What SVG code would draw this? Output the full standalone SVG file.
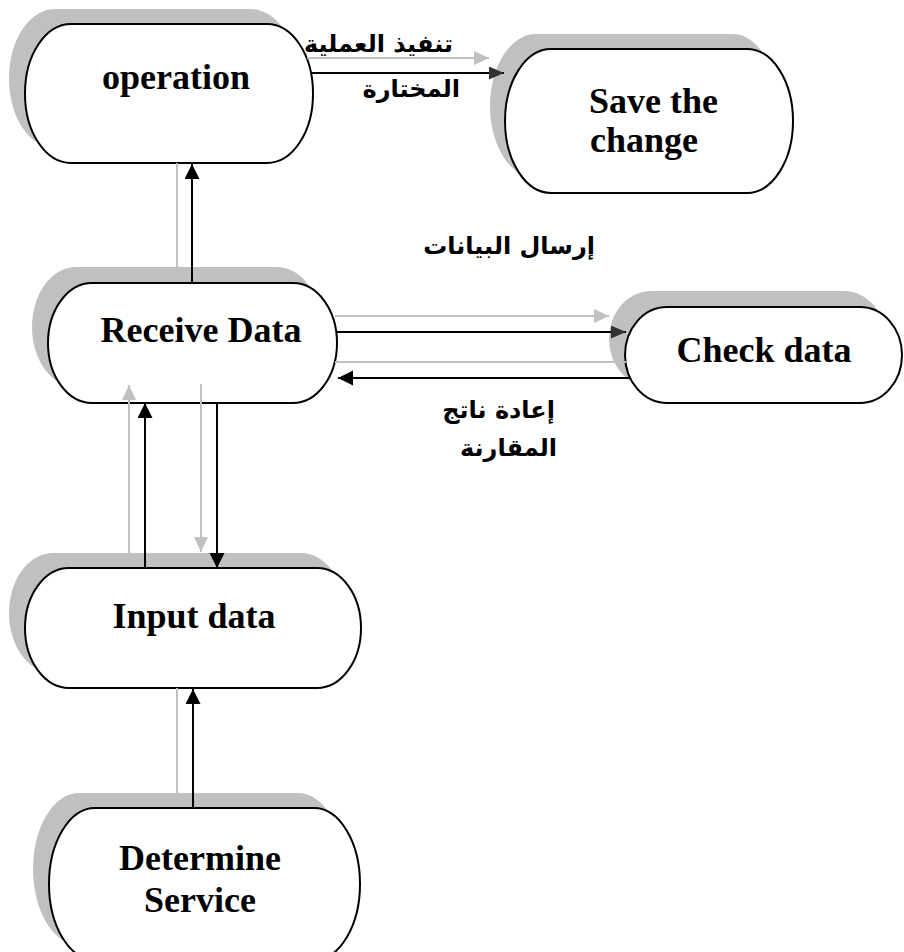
<svg xmlns="http://www.w3.org/2000/svg" width="904" height="952" viewBox="0 0 904 952">
  <style>
    .shadow { fill: #c0c0c0; stroke: none; }
    .box { fill: #ffffff; stroke: #000000; stroke-width: 2; }
    .label { font-family: "Liberation Serif", "Times New Roman", serif; font-weight: bold; font-size: 36px; fill: #000000; }
    .ar { font-family: "DejaVu Sans", "Liberation Sans", sans-serif; font-weight: bold; font-size: 24px; fill: #000000; }
    .line { fill: none; stroke: #000000; stroke-width: 2; }
    .gline { fill: none; stroke: #c0c0c0; stroke-width: 2; }
  </style>
  <defs>
    <marker id="arrowBlack" markerUnits="userSpaceOnUse" markerWidth="16" markerHeight="16" refX="15" refY="7.5" orient="auto">
      <path d="M0,0 L15,7.5 L0,15 Z" fill="#000000"/>
    </marker>
    <marker id="arrowDark" markerUnits="userSpaceOnUse" markerWidth="16" markerHeight="16" refX="15" refY="6.5" orient="auto">
      <path d="M0,0 L15,6.5 L0,13 Z" fill="#333333"/>
    </marker>
    <marker id="arrowGray" markerUnits="userSpaceOnUse" markerWidth="16" markerHeight="16" refX="15" refY="7" orient="auto">
      <path d="M0,0 L15,7 L0,14 Z" fill="#c0c0c0"/>
    </marker>
  </defs>

  <rect width="904" height="952" fill="#ffffff"/>

  <!-- process nodes: gray drop shadow behind a white rounded box -->
  <g id="operation">
    <rect class="shadow" x="9" y="9" width="288" height="139" rx="46" ry="69"/>
    <rect class="box" x="25" y="24" width="288" height="139" rx="46" ry="69"/>
    <text class="label" x="176" y="89" text-anchor="middle">operation</text>
  </g>

  <g id="save-change">
    <rect class="shadow" x="490" y="34" width="288" height="144" rx="46" ry="72"/>
    <rect class="box" x="505" y="49" width="288" height="144" rx="46" ry="72"/>
    <text class="label" x="589" y="113">Save the</text>
    <text class="label" x="590" y="152">change</text>
  </g>

  <g id="receive-data">
    <rect class="shadow" x="32" y="267" width="289" height="120" rx="44" ry="60"/>
    <rect class="box" x="48" y="283" width="289" height="120" rx="44" ry="60"/>
    <text class="label" x="201" y="342" text-anchor="middle">Receive Data</text>
  </g>

  <g id="check-data">
    <rect class="shadow" x="609" y="291" width="277" height="96" rx="42" ry="48"/>
    <rect class="box" x="625" y="307" width="277" height="96" rx="42" ry="48"/>
    <text class="label" x="764" y="362" text-anchor="middle">Check data</text>
  </g>

  <g id="input-data">
    <rect class="shadow" x="9" y="553" width="336" height="120" rx="44" ry="60"/>
    <rect class="box" x="25" y="568" width="336" height="120" rx="44" ry="60"/>
    <text class="label" x="194" y="628" text-anchor="middle">Input data</text>
  </g>

  <g id="determine-service">
    <rect class="shadow" x="33" y="793" width="311" height="152" rx="46" ry="76"/>
    <rect class="box" x="49" y="808" width="311" height="152" rx="46" ry="76"/>
    <text class="label" x="200" y="870" text-anchor="middle">Determine</text>
    <text class="label" x="200" y="912" text-anchor="middle">Service</text>
  </g>

  <!-- flows: gray offset copies plus the black arrows -->
  <g id="connectors">
    <path class="gline" d="M177,267 L177,163"/>
    <path class="line" d="M192,283 L192,164" marker-end="url(#arrowBlack)"/>

    <path class="gline" d="M307,58 L489,58" marker-end="url(#arrowGray)"/>
    <path class="line" d="M312,73 L504,73" marker-end="url(#arrowDark)"/>

    <path class="gline" d="M335,316 L609,316" marker-end="url(#arrowGray)"/>
    <path class="line" d="M337,332 L626,332" marker-end="url(#arrowDark)"/>

    <path class="gline" d="M626,362 L335,362"/>
    <path class="line" d="M630,378 L338,378" marker-end="url(#arrowBlack)"/>

    <path class="gline" d="M129,553 L129,385" marker-end="url(#arrowGray)"/>
    <path class="line" d="M145,568 L145,403" marker-end="url(#arrowBlack)"/>

    <path class="gline" d="M201,384 L201,552" marker-end="url(#arrowGray)"/>
    <path class="line" d="M217,403 L217,568" marker-end="url(#arrowBlack)"/>

    <path class="gline" d="M177,793 L177,688"/>
    <path class="line" d="M193,808 L193,689" marker-end="url(#arrowBlack)"/>
  </g>

  <!-- flow labels -->
  <g id="flow-labels">
    <text class="ar" x="453" y="52" text-anchor="end">تنفيذ العملية</text>
    <text class="ar" x="460" y="97" text-anchor="end">المختارة</text>
    <text class="ar" x="595" y="254" text-anchor="end">إرسال البيانات</text>
    <text class="ar" x="555" y="418" text-anchor="end">إعادة ناتج</text>
    <text class="ar" x="557" y="456" text-anchor="end">المقارنة</text>
  </g>
</svg>
